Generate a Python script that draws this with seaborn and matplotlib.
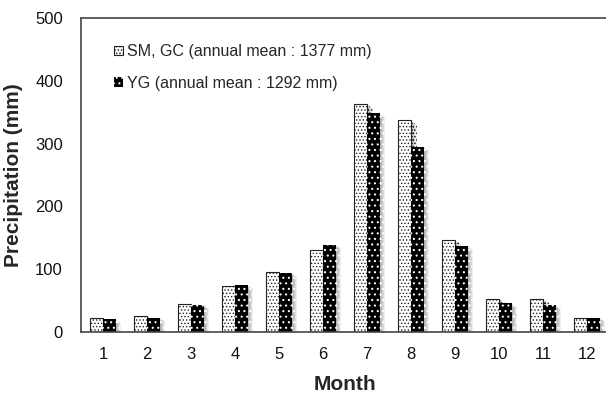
import matplotlib
matplotlib.use("Agg")
import matplotlib.pyplot as plt
import matplotlib.patheffects as pe
from matplotlib.patches import Patch
import numpy as np
import pandas as pd
import seaborn as sns

months = [1, 2, 3, 4, 5, 6, 7, 8, 9, 10, 11, 12]
sm_gc = [22, 26, 45, 74, 96, 130, 363, 337, 147, 53, 53, 23]
yg = [20, 23, 43, 75, 94, 139, 348, 295, 137, 46, 43, 23]
series_labels = ["SM, GC (annual mean : 1377 mm)", "YG (annual mean : 1292 mm)"]
y_ticks = [0, 100, 200, 300, 400, 500]

df = pd.DataFrame({
    "Month": months * 2,
    "Precipitation": sm_gc + yg,
    "Station": [series_labels[0]] * len(months) + [series_labels[1]] * len(months),
})

sns.set_style("white")
plt.rcParams["font.family"] = ["Liberation Sans", "DejaVu Sans"]
plt.rcParams["hatch.linewidth"] = 0.7

fig = plt.figure(figsize=(6.06, 3.96), dpi=100)
ax = fig.add_axes([81 / 606, 1 - 332 / 396, 528 / 606, 314 / 396])

sns.barplot(data=df, x="Month", y="Precipitation", hue="Station",
            hue_order=series_labels, palette=["white", "black"],
            width=0.58, gap=0, ax=ax, legend=False, saturation=1)

# soft drop shadow to the lower right of every bar
shadow = [pe.SimplePatchShadow(offset=(k * 0.8, -k * 0.5), shadow_rgbFace="black",
                               alpha=0.07) for k in range(1, 6)] + [pe.Normal()]

SM_HATCH = "....."
YG_HATCH = "..."
SM_HATCH_LW = 0.6
YG_HATCH_LW = 0.75


def set_hatch_lw(patch, lw):
    if hasattr(patch, "set_hatch_linewidth"):
        patch.set_hatch_linewidth(lw)
    else:
        patch._hatch_linewidth = lw


def style_bar(patch, first):
    if first:
        patch.set_facecolor("white")
        patch.set_edgecolor("#222222")
        patch.set_linewidth(0.8)
        patch.set_hatch(SM_HATCH)
        set_hatch_lw(patch, SM_HATCH_LW)
    else:
        patch.set_facecolor("black")
        patch.set_edgecolor("white")
        patch.set_linewidth(0)
        patch.set_hatch(YG_HATCH)
        set_hatch_lw(patch, YG_HATCH_LW)


for i, container in enumerate(ax.containers):
    for bar in container:
        style_bar(bar, i == 0)
        bar.set_path_effects(shadow)

ax.set_ylim(0, 500)
ax.set_xlim(-0.5, len(months) - 0.5)
ax.set_yticks(y_ticks)
ax.set_yticklabels([str(v) for v in y_ticks], fontsize=12, color="#111111")
ax.set_xticks(range(len(months)))
ax.set_xticklabels([str(m) for m in months], fontsize=12, color="#111111")
ax.set_xticks(np.arange(-0.5, len(months), 1.0), minor=True)
ax.tick_params(axis="x", which="major", length=0, pad=11)
ax.tick_params(axis="x", which="minor", direction="in", length=5, width=1, color="#444444")
ax.tick_params(axis="y", direction="in", length=5, width=1, color="#444444", pad=13)

for side in ["left", "bottom", "top", "right"]:
    ax.spines[side].set_visible(True)
    ax.spines[side].set_color("#444444")
    ax.spines[side].set_linewidth(1.2)

ax.set_xlabel("Month", fontsize=15, fontweight="bold", labelpad=9)
ax.set_ylabel("Precipitation (mm)", fontsize=15, fontweight="bold", labelpad=9)

leg_handles = [Patch(), Patch()]
style_bar(leg_handles[0], True)
style_bar(leg_handles[1], False)
ax.legend(leg_handles, series_labels, loc="upper left", frameon=False,
          fontsize=11.5, handlelength=0.55, handleheight=0.55, handletextpad=0.3,
          labelspacing=1.05, bbox_to_anchor=(0.05, 0.937), borderaxespad=0)

fig.savefig("out.png", dpi=100)
